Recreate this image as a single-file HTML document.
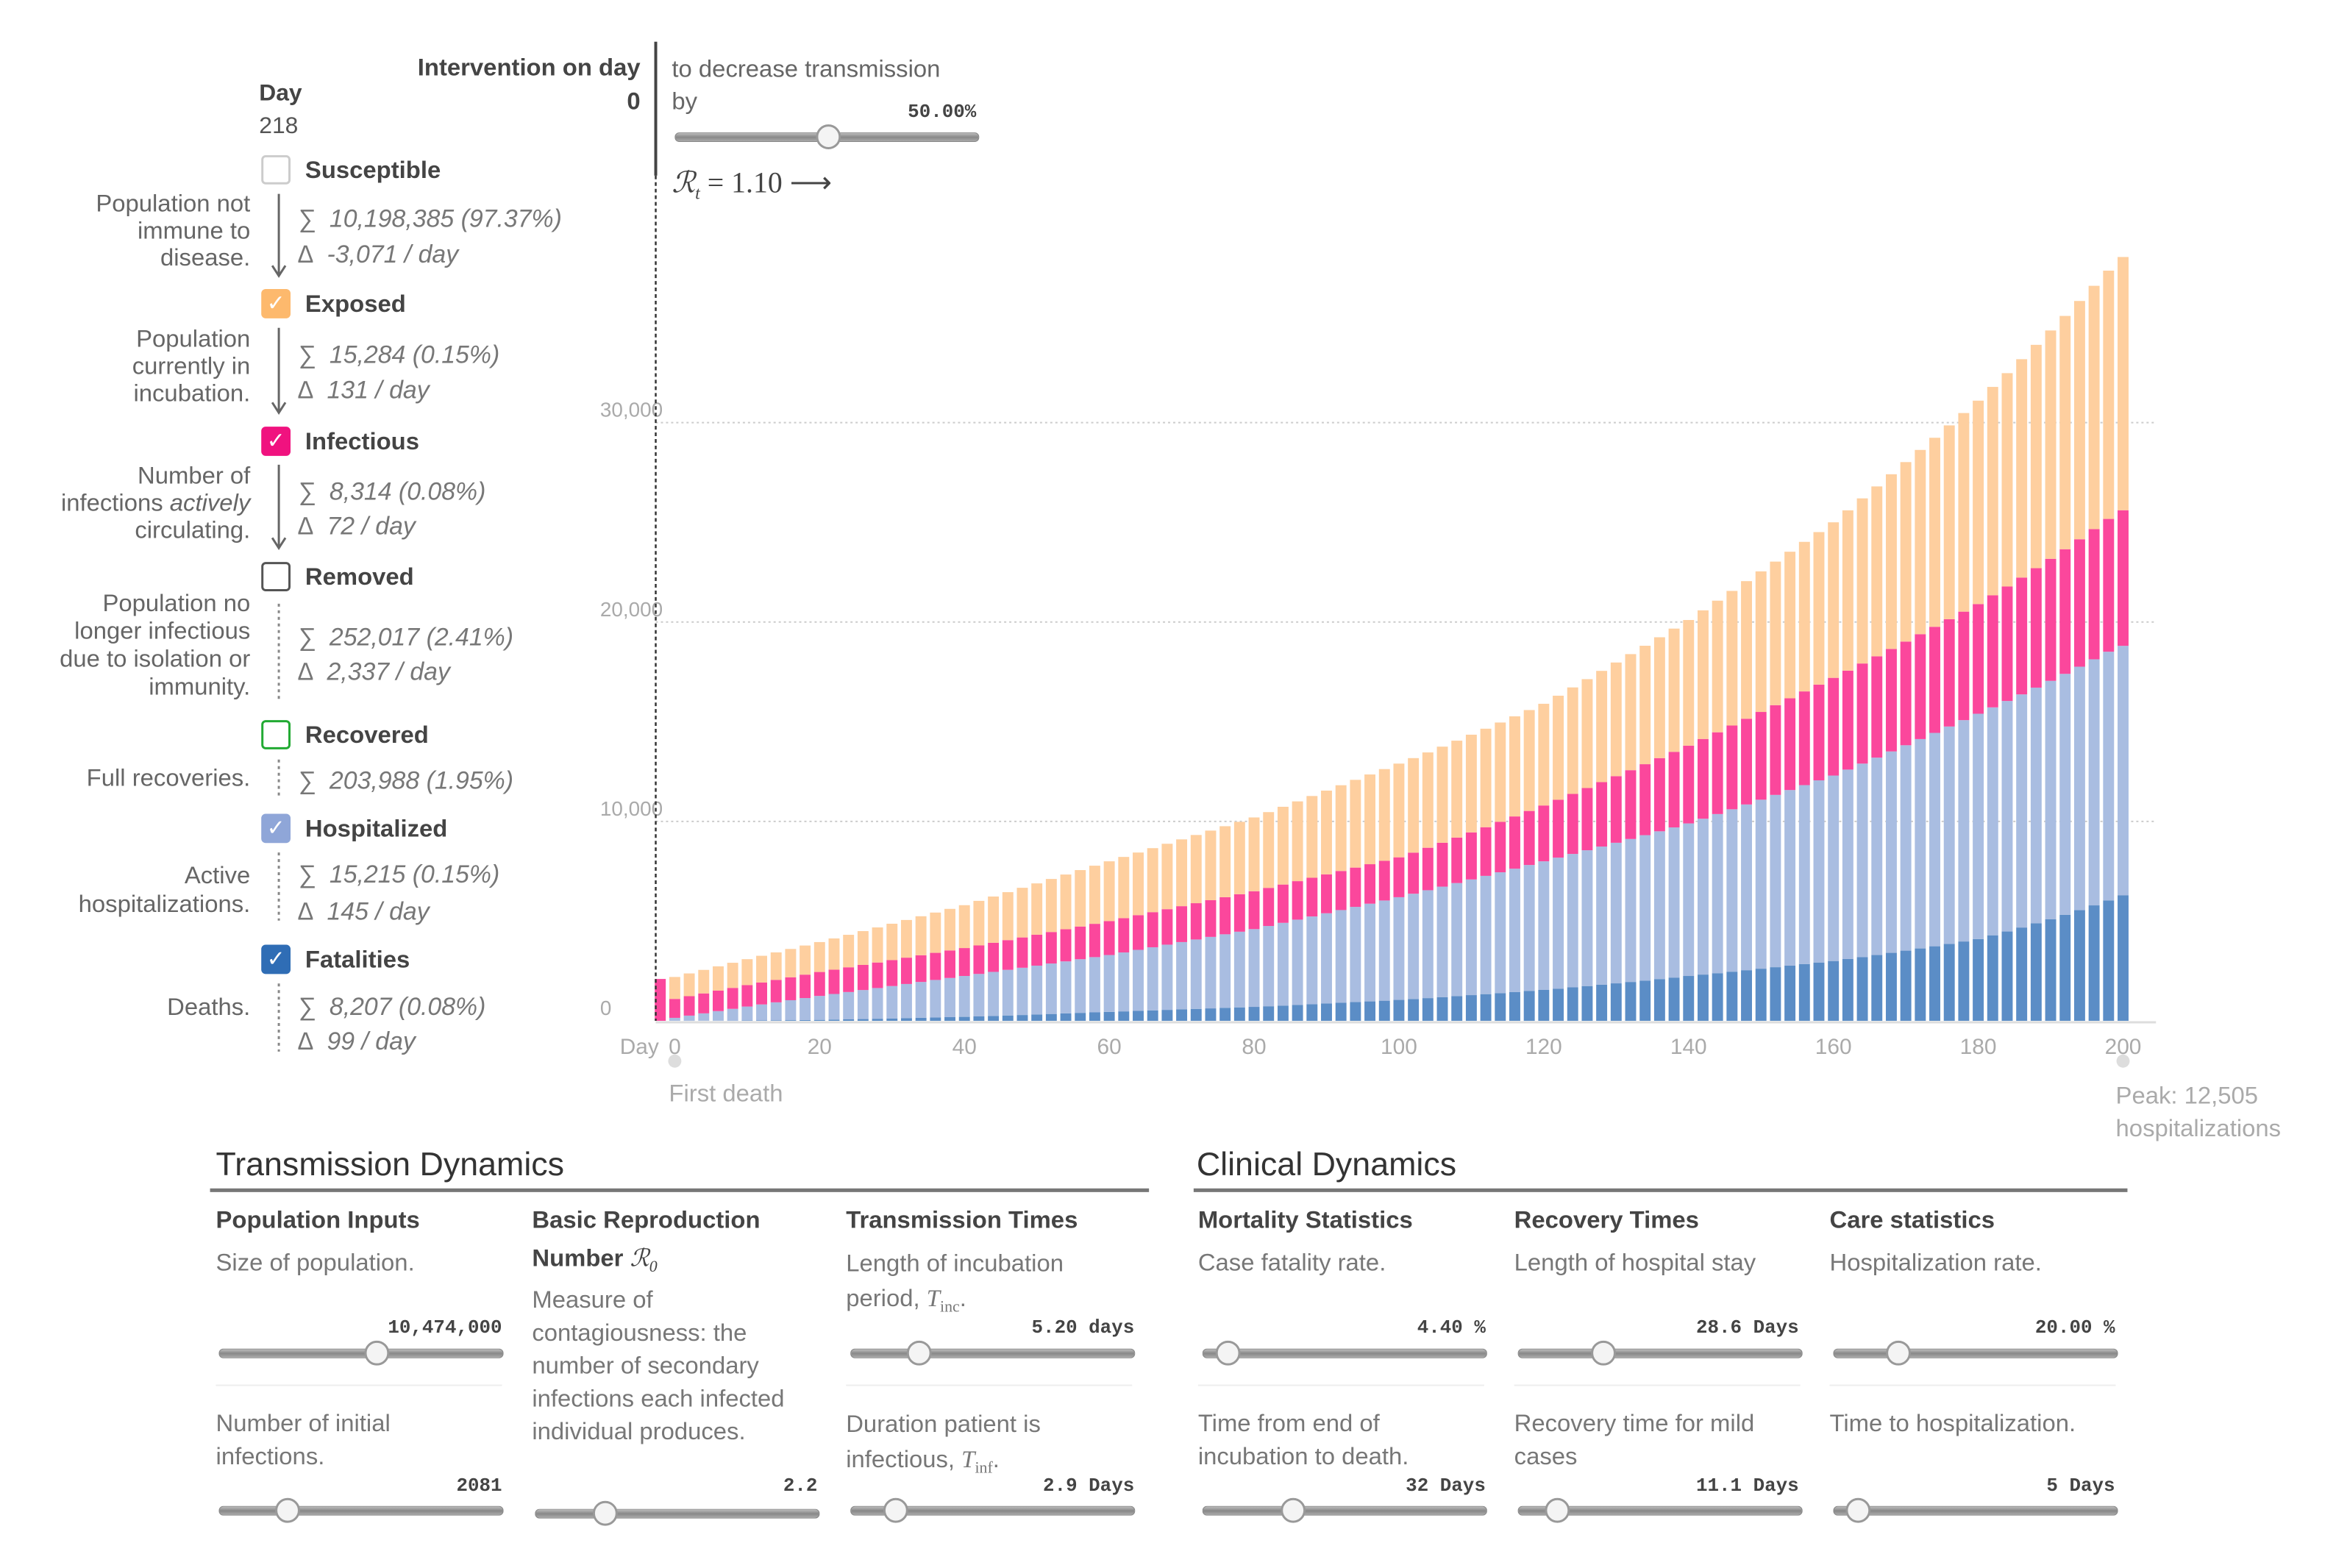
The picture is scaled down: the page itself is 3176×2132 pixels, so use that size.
<!DOCTYPE html>
<html><head><meta charset="utf-8"><style>
html{overflow:hidden}
body{margin:0;width:3176px;height:2132px;background:#fff;position:relative;overflow:hidden;font-family:"Liberation Sans",sans-serif;color:#444;transform:scale(0.995);transform-origin:0 0}
.a{position:absolute;white-space:nowrap;line-height:40px}
.b{font-weight:bold;color:#444}
.g{color:#666;font-size:33px}
.r{text-align:right}
.s{color:#777;font-style:italic;font-size:34px}
.lbl{font-size:33px;font-weight:bold;color:#444}
.cb{position:absolute;width:40px;height:40px;border-radius:6px;box-sizing:border-box;color:#fff;font-size:30px;line-height:40px;text-align:center}
.trk{position:absolute;height:11px;border-radius:6px;background:linear-gradient(#bbb,#888,#aaa);border:1px solid #888}
.knob{position:absolute;width:34px;height:34px;border-radius:50%;background:#f4f4f4;border:3px solid #999;box-sizing:border-box}
.mono{font-family:"Liberation Mono",monospace;font-weight:bold;font-size:26px;color:#444}
.hd{font-size:33px;font-weight:bold;color:#444}
.ds{font-size:33px;color:#777;line-height:45px}
.ser{font-family:"Liberation Serif",serif;font-style:italic}
</style></head><body>
<!-- intervention -->
<div class="a b r" style="right:2301px;top:72px;font-size:33px">Intervention on day</div>
<div class="a b r" style="right:2301px;top:118px;font-size:33px">0</div>
<div style="position:absolute;left:894px;top:57px;width:4px;height:183px;background:#444"></div>
<div class="a g" style="left:918px;top:74px">to decrease transmission</div>
<div class="a g" style="left:918px;top:118px">by</div>
<div class="a mono" style="right:1842px;top:133px">50.00%</div>
<div class="trk" style="left:922px;top:181px;width:414px"></div>
<div class="knob" style="left:1115px;top:170px"></div>
<div class="a ser" style="left:918px;top:230px;font-size:40px;color:#444">ℛ<sub style="font-size:24px">t</sub> <span style="font-style:normal">= 1.10 ⟶</span></div>

<!-- left panel -->
<div class="a b" style="left:354px;top:106px;font-size:32px">Day</div>
<div class="a" style="left:354px;top:151px;font-size:32px;color:#555">218</div>

<div class="cb" style="left:357px;top:212px;border:3px solid #ccc"></div>
<div class="a lbl" style="left:417px;top:212px">Susceptible</div>
<div class="a g r" style="right:2834px;top:259px;line-height:37px">Population not<br>immune to<br>disease.</div>
<div class="a s" style="left:407px;top:279px">∑ &nbsp;10,198,385 (97.37%)</div>
<div class="a s" style="left:407px;top:328px">∆ &nbsp;-3,071 / day</div>

<div class="cb" style="left:357px;top:395px;background:#fdb96d">✓</div>
<div class="a lbl" style="left:417px;top:395px">Exposed</div>
<div class="a g r" style="right:2834px;top:444px;line-height:37px">Population<br>currently in<br>incubation.</div>
<div class="a s" style="left:407px;top:465px">∑ &nbsp;15,284 (0.15%)</div>
<div class="a s" style="left:407px;top:513px">∆ &nbsp;131 / day</div>

<div class="cb" style="left:357px;top:583px;background:#f0127f">✓</div>
<div class="a lbl" style="left:417px;top:583px">Infectious</div>
<div class="a g r" style="right:2834px;top:631px;line-height:37px">Number of<br>infections <i>actively</i><br>circulating.</div>
<div class="a s" style="left:407px;top:652px">∑ &nbsp;8,314 (0.08%)</div>
<div class="a s" style="left:407px;top:699px">∆ &nbsp;72 / day</div>

<div class="cb" style="left:357px;top:768px;border:3px solid #555"></div>
<div class="a lbl" style="left:417px;top:768px">Removed</div>
<div class="a g r" style="right:2834px;top:805px;line-height:38px">Population no<br>longer infectious<br>due to isolation or<br>immunity.</div>
<div class="a s" style="left:407px;top:851px">∑ &nbsp;252,017 (2.41%)</div>
<div class="a s" style="left:407px;top:898px">∆ &nbsp;2,337 / day</div>

<div class="cb" style="left:357px;top:984px;border:3px solid #22aa33"></div>
<div class="a lbl" style="left:417px;top:984px">Recovered</div>
<div class="a g r" style="right:2834px;top:1043px">Full recoveries.</div>
<div class="a s" style="left:407px;top:1047px">∑ &nbsp;203,988 (1.95%)</div>

<div class="cb" style="left:357px;top:1112px;background:#8fa6d8">✓</div>
<div class="a lbl" style="left:417px;top:1112px">Hospitalized</div>
<div class="a g r" style="right:2834px;top:1176px;line-height:39px">Active<br>hospitalizations.</div>
<div class="a s" style="left:407px;top:1175px">∑ &nbsp;15,215 (0.15%)</div>
<div class="a s" style="left:407px;top:1226px">∆ &nbsp;145 / day</div>

<div class="cb" style="left:357px;top:1291px;background:#2f6db5">✓</div>
<div class="a lbl" style="left:417px;top:1291px">Fatalities</div>
<div class="a g r" style="right:2834px;top:1356px">Deaths.</div>
<div class="a s" style="left:407px;top:1356px">∑ &nbsp;8,207 (0.08%)</div>
<div class="a s" style="left:407px;top:1403px">∆ &nbsp;99 / day</div>

<svg style="position:absolute;left:0;top:0" width="500" height="1500">
<g stroke="#666" stroke-width="3" fill="none">
<path d="M381 265V375M372 363L381 377L390 363"/>
<path d="M381 448V562M372 550L381 564L390 550"/>
<path d="M381 635V747M372 735L381 749L390 735"/>
</g>
<g stroke="#888" stroke-width="3" stroke-dasharray="4 5">
<path d="M381 825V957"/><path d="M381 1038V1089"/><path d="M381 1165V1258"/><path d="M381 1344V1437"/>
</g>
</svg>

<svg id="chart" style="position:absolute;left:0;top:0" width="3176" height="1600"></svg>

<div class="a" style="left:914px;top:1474px;font-size:33px;color:#aaa">First death</div>
<div class="a" style="left:2891px;top:1474px;font-size:33px;color:#aaa;line-height:45px">Peak: 12,505<br>hospitalizations</div>

<!-- bottom sections -->
<div class="a" style="left:295px;top:1566px;font-size:45px;line-height:50px;color:#333">Transmission Dynamics</div>
<div style="position:absolute;left:287px;top:1624px;width:1283px;height:5px;background:#777"></div>
<div class="a" style="left:1635px;top:1566px;font-size:45px;line-height:50px;color:#333">Clinical Dynamics</div>
<div style="position:absolute;left:1631px;top:1624px;width:1276px;height:5px;background:#777"></div>

<div class="a hd" style="left:295px;top:1647px">Population Inputs</div>
<div class="a ds" style="left:295px;top:1702px">Size of population.</div>
<div class="a mono" style="right:2490px;top:1794px">10,474,000</div>
<div class="trk" style="left:299px;top:1843px;width:387px"></div>
<div class="knob" style="left:498px;top:1832px"></div>
<div style="position:absolute;left:295px;top:1892px;width:391px;height:2px;background:#eee"></div>
<div class="a ds" style="left:295px;top:1922px">Number of initial<br>infections.</div>
<div class="a mono" style="right:2490px;top:2010px">2081</div>
<div class="trk" style="left:299px;top:2058px;width:387px"></div>
<div class="knob" style="left:376px;top:2047px"></div>

<div class="a hd" style="left:727px;top:1641px;line-height:52px">Basic Reproduction<br>Number <span class="ser" style="font-weight:normal">ℛ<sub style="font-size:22px">0</sub></span></div>
<div class="a ds" style="left:727px;top:1753px">Measure of<br>contagiousness: the<br>number of secondary<br>infections each infected<br>individual produces.</div>
<div class="a mono" style="right:2059px;top:2010px">2.2</div>
<div class="trk" style="left:731px;top:2062px;width:387px"></div>
<div class="knob" style="left:810px;top:2051px"></div>

<div class="a hd" style="left:1156px;top:1647px">Transmission Times</div>
<div class="a ds" style="left:1156px;top:1702px;line-height:48px">Length of incubation<br>period, <span class="ser">T<sub style="font-size:22px;font-style:normal">inc</sub></span>.</div>
<div class="a mono" style="right:1626px;top:1794px">5.20 days</div>
<div class="trk" style="left:1162px;top:1843px;width:387px"></div>
<div class="knob" style="left:1239px;top:1832px"></div>
<div style="position:absolute;left:1156px;top:1892px;width:391px;height:2px;background:#eee"></div>
<div class="a ds" style="left:1156px;top:1922px;line-height:48px">Duration patient is<br>infectious, <span class="ser">T<sub style="font-size:22px;font-style:normal">inf</sub></span>.</div>
<div class="a mono" style="right:1626px;top:2010px">2.9 Days</div>
<div class="trk" style="left:1162px;top:2058px;width:387px"></div>
<div class="knob" style="left:1207px;top:2047px"></div>

<div class="a hd" style="left:1637px;top:1647px">Mortality Statistics</div>
<div class="a ds" style="left:1637px;top:1702px">Case fatality rate.</div>
<div class="a mono" style="right:1146px;top:1794px">4.40 %</div>
<div class="trk" style="left:1643px;top:1843px;width:387px"></div>
<div class="knob" style="left:1661px;top:1832px"></div>
<div style="position:absolute;left:1637px;top:1892px;width:391px;height:2px;background:#eee"></div>
<div class="a ds" style="left:1637px;top:1922px">Time from end of<br>incubation to death.</div>
<div class="a mono" style="right:1146px;top:2010px">32 Days</div>
<div class="trk" style="left:1643px;top:2058px;width:387px"></div>
<div class="knob" style="left:1750px;top:2047px"></div>

<div class="a hd" style="left:2069px;top:1647px">Recovery Times</div>
<div class="a ds" style="left:2069px;top:1702px">Length of hospital stay</div>
<div class="a mono" style="right:718px;top:1794px">28.6 Days</div>
<div class="trk" style="left:2074px;top:1843px;width:387px"></div>
<div class="knob" style="left:2174px;top:1832px"></div>
<div style="position:absolute;left:2069px;top:1892px;width:391px;height:2px;background:#eee"></div>
<div class="a ds" style="left:2069px;top:1922px">Recovery time for mild<br>cases</div>
<div class="a mono" style="right:718px;top:2010px">11.1 Days</div>
<div class="trk" style="left:2074px;top:2058px;width:387px"></div>
<div class="knob" style="left:2111px;top:2047px"></div>

<div class="a hd" style="left:2500px;top:1647px">Care statistics</div>
<div class="a ds" style="left:2500px;top:1702px">Hospitalization rate.</div>
<div class="a mono" style="right:286px;top:1794px">20.00 %</div>
<div class="trk" style="left:2505px;top:1843px;width:387px"></div>
<div class="knob" style="left:2577px;top:1832px"></div>
<div style="position:absolute;left:2500px;top:1892px;width:391px;height:2px;background:#eee"></div>
<div class="a ds" style="left:2500px;top:1922px">Time to hospitalization.</div>
<div class="a mono" style="right:286px;top:2010px">5 Days</div>
<div class="trk" style="left:2505px;top:2058px;width:387px"></div>
<div class="knob" style="left:2522px;top:2047px"></div>

<script>
const firstDay = -2;
const dayStep = 2;
const fatalities = [0,0,2,5,8,12,17,22,28,35,42,50,62,75,90,105,120,138,155,170,185,200,222,245,268,292,318,345,372,400,425,450,475,500,525,550,575,600,625,650,675,700,732,765,800,835,870,905,940,975,1010,1050,1095,1140,1190,1240,1290,1340,1390,1440,1495,1550,1615,1680,1745,1810,1880,1950,2020,2095,2170,2250,2320,2390,2465,2540,2615,2690,2770,2850,2925,3000,3100,3200,3300,3410,3520,3630,3740,3860,3980,4100,4290,4480,4680,4890,5100,5320,5550,5790,6040,6300];
const hospitalized = [0,150,260,370,480,590,700,800,900,1000,1100,1200,1285,1370,1455,1540,1625,1710,1795,1880,1965,2050,2130,2210,2290,2370,2450,2530,2610,2690,2770,2850,2955,3060,3165,3270,3375,3480,3585,3690,3795,3900,4025,4150,4275,4400,4525,4650,4775,4900,5025,5150,5280,5410,5540,5670,5800,5930,6060,6190,6320,6450,6570,6690,6810,6930,7050,7170,7290,7410,7530,7650,7815,7980,8145,8310,8475,8640,8805,8970,9135,9300,9500,9700,9900,10100,10300,10500,10700,10900,11100,11300,11430,11560,11690,11820,11950,12080,12210,12340,12470,12505];
const infectious = [2100,950,975,1000,1025,1050,1075,1100,1125,1150,1175,1200,1220,1240,1260,1280,1300,1320,1340,1360,1380,1400,1430,1460,1490,1520,1550,1580,1610,1640,1670,1700,1720,1740,1760,1780,1800,1820,1840,1860,1880,1900,1910,1920,1930,1940,1950,1960,1970,1980,1990,2000,2060,2130,2200,2280,2360,2440,2530,2620,2710,2800,2900,3010,3120,3230,3340,3450,3560,3670,3790,3900,4000,4100,4200,4300,4400,4500,4600,4700,4800,4900,4960,5020,5080,5140,5200,5260,5320,5380,5440,5500,5620,5740,5860,5990,6120,6250,6390,6530,6660,6800];
const exposed = [0,1100,1140,1180,1220,1260,1300,1340,1380,1420,1460,1500,1565,1630,1695,1760,1825,1890,1955,2020,2085,2150,2235,2320,2405,2490,2575,2660,2745,2830,2915,3000,3070,3140,3210,3280,3350,3420,3490,3560,3630,3700,3800,3900,4000,4100,4200,4300,4400,4500,4600,4700,4740,4780,4820,4860,4900,4940,4980,5020,5060,5100,5220,5340,5460,5580,5700,5820,5940,6060,6180,6300,6450,6600,6750,6900,7050,7200,7350,7500,7650,7800,8040,8280,8520,8760,9000,9240,9480,9720,9960,10200,10450,10700,10950,11200,11450,11700,11950,12200,12450,12700];
const yTicks = [0,10000,20000,30000];
const yTickLabels = ["0","10,000","20,000","30,000"];
const xTicks = [0,20,40,60,80,100,120,140,160,180,200];

const NS="http://www.w3.org/2000/svg";
const svg=document.getElementById('chart');
const X0=922,X1=2901,Y0=1395,YPER=0.02725;
function xs(d){return X0+(d)*(X1-X0)/200;}
function ys(v){return Y0-v*YPER;}
function mk(t,at){const e=document.createElementNS(NS,t);for(const k in at)e.setAttribute(k,at[k]);svg.appendChild(e);return e;}

yTicks.forEach((v,i)=>{
  if(v>0){const l=mk('line',{x1:896,x2:2946,y1:ys(v),y2:ys(v),stroke:'#ccc','stroke-width':2,'stroke-dasharray':'3 4'});
  
  }
  const t=mk('text',{x:820,y:ys(v)-8,'font-size':28,fill:'#aaa','font-family':'Liberation Sans, sans-serif'});
  t.textContent=yTickLabels[i];
  
  
});
const base=mk('line',{x1:896,x2:2946,y1:Y0+2,y2:Y0+2,stroke:'#ddd','stroke-width':3});



const series=[[fatalities,'#5b8dc6'],[hospitalized,'#a9bde1'],[infectious,'#fb479c'],[exposed,'#fecf9f']];
const names=['bar-fatalities','bar-hospitalized','bar-infectious','bar-exposed'];
const bw=15;
for(let i=0;i<fatalities.length;i++){
  const d=firstDay+i*dayStep;let acc=0;
  series.forEach(([arr,c],k)=>{
    const v=arr[i];if(v<=0)return;
    const r=mk('rect',{x:xs(d)-bw/2,y:ys(acc+v),width:bw,height:ys(acc)-ys(acc+v),fill:c});
    
    
    acc+=v;
  });
}
xTicks.forEach(v=>{
  const t=mk('text',{x:xs(v),y:1440,'font-size':30,fill:'#aaa','text-anchor':'middle','font-family':'Liberation Sans, sans-serif'});
  t.textContent=v;
  
  
});
const dl=mk('text',{x:847,y:1440,'font-size':30,fill:'#aaa','font-family':'Liberation Sans, sans-serif'});
dl.textContent='Day';


const vline=mk('line',{x1:896,x2:896,y1:240,y2:1395,stroke:'#333','stroke-width':2.5,'stroke-dasharray':'5 4'});


const m1=mk('circle',{cx:xs(0),cy:1450,r:9,fill:'#ddd'});


const m2=mk('circle',{cx:xs(200),cy:1450,r:9,fill:'#ddd'});


</script>
</body></html>
